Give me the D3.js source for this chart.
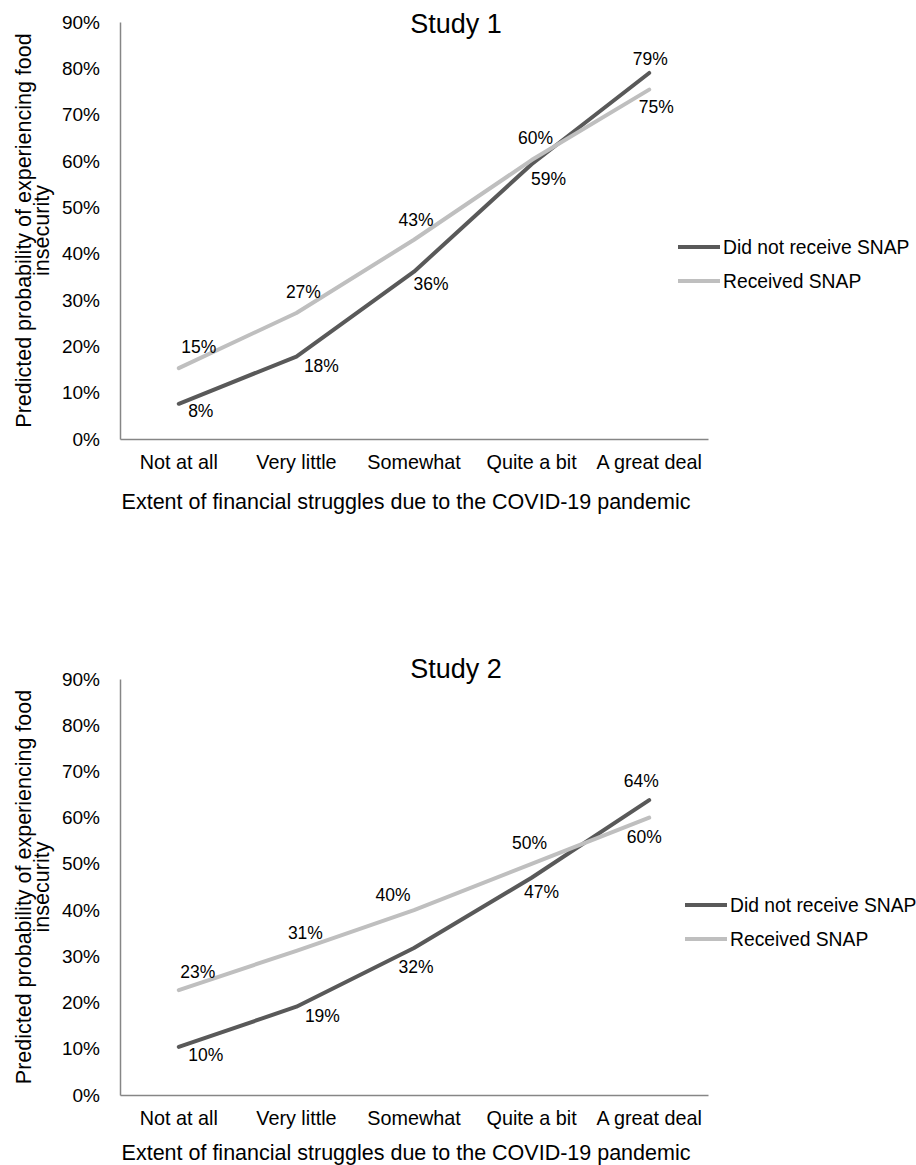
<!DOCTYPE html>
<html>
<head>
<meta charset="utf-8">
<script src="https://cdn.jsdelivr.net/npm/d3@7"></script>
<style>
  body { margin: 0; background: #fff; }
  svg { display: block; font-family: "Liberation Sans", Arial, sans-serif; }
</style>
</head>
<body>
<svg></svg>
<script>
const width = 916;
const height = 1165;

// data (percent)
const categories = ["Not at all", "Very little", "Somewhat", "Quite a bit", "A great deal"];
const seriesNames = ["Did not receive SNAP", "Received SNAP"];
const yTicks = [0, 10, 20, 30, 40, 50, 60, 70, 80, 90];

const study1NoSnap = [7.6, 17.8, 36.1, 59.3, 79.0];
const study1Snap = [15.3, 27.2, 43.0, 60.2, 75.4];

const study2NoSnap = [10.4, 19.1, 31.8, 47.0, 63.8];
const study2Snap = [22.7, 31.2, 40.0, 50.0, 60.0];

const colors = ["#595959", "#bfbfbf"];

// label nudges (dx, dy from the point) to mimic the original placement
const study1Offsets = [
  [[22, 13], [25, 15], [17, 18], [17, 21], [1, -8]],
  [[20, -15], [7, -15], [2, -14], [4, -16], [7, 23]]
];
const study2Offsets = [
  [[27, 14], [26, 15], [2, 25], [10, 20], [-8, -13]],
  [[19, -12], [9, -12], [-21, -9], [-2, -15], [-5, 25]]
];

const svg = d3.select("svg")
  .attr("width", width)
  .attr("height", height);

function drawPanel(cfg) {
  const x = d3.scaleBand()
    .domain(categories)
    .range([120, 708]);

  const y = d3.scaleLinear()
    .domain([0, 90])
    .range([cfg.bottom, cfg.top]);

  const g = svg.append("g");

  // y axis
  const yAxis = g.append("g")
    .attr("transform", "translate(120,0)")
    .call(d3.axisLeft(y).tickValues(yTicks).tickSize(0).tickPadding(20).tickFormat(d => d + "%"));
  yAxis.select(".domain").attr("stroke", "#868686").attr("stroke-width", 1.5);
  yAxis.selectAll("text")
    .attr("font-size", 19)
    .attr("font-family", "Liberation Sans, Arial, sans-serif")
    .attr("fill", "#000");

  // x axis
  const xAxis = g.append("g")
    .attr("transform", `translate(0,${cfg.bottom})`)
    .call(d3.axisBottom(x).tickSize(0).tickPadding(16));
  xAxis.select(".domain").attr("stroke", "#868686").attr("stroke-width", 1.5);
  xAxis.selectAll("text")
    .attr("font-size", 19.8)
    .attr("font-family", "Liberation Sans, Arial, sans-serif")
    .attr("fill", "#000");

  // lines
  const line = d3.line()
    .x((d, i) => x(categories[i]) + x.bandwidth() / 2)
    .y(d => y(d));

  cfg.series.forEach(function(vals, s) {
    g.append("path")
      .datum(vals)
      .attr("d", line)
      .attr("fill", "none")
      .attr("stroke", colors[s])
      .attr("stroke-width", 4)
      .attr("stroke-linecap", "round")
      .attr("stroke-linejoin", "round");
  });

  // data labels
  cfg.series.forEach(function(vals, s) {
    g.selectAll(null)
      .data(vals)
      .join("text")
      .attr("x", (d, i) => x(categories[i]) + x.bandwidth() / 2 + cfg.offsets[s][i][0])
      .attr("y", (d, i) => y(d) + cfg.offsets[s][i][1])
      .attr("text-anchor", "middle")
      .attr("font-size", 17.5)
      .text(d => Math.round(d) + "%");
  });

  // title
  g.append("text")
    .attr("x", 456)
    .attr("y", cfg.titleY)
    .attr("text-anchor", "middle")
    .attr("font-size", 27)
    .text(cfg.title);

  // y axis title
  const yt = g.append("text")
    .attr("transform", `translate(31,${(cfg.top + cfg.bottom) / 2}) rotate(-90)`)
    .attr("text-anchor", "middle")
    .attr("font-size", 21.5);
  yt.append("tspan").attr("x", 0).attr("y", 0).text("Predicted probability of experiencing food");
  yt.append("tspan").attr("x", 0).attr("y", 18).text("insecurity");

  // x axis title
  g.append("text")
    .attr("x", 406)
    .attr("y", cfg.xTitleY)
    .attr("text-anchor", "middle")
    .attr("font-size", 21.5)
    .text("Extent of financial struggles due to the COVID-19 pandemic");

  // legend
  const legend = g.append("g")
    .attr("transform", `translate(${cfg.legendX},${cfg.legendY})`);

  seriesNames.forEach(function(name, s) {
    legend.append("line")
      .attr("x1", 0)
      .attr("x2", 42)
      .attr("y1", s * 34)
      .attr("y2", s * 34)
      .attr("stroke", colors[s])
      .attr("stroke-width", 4);
    legend.append("text")
      .attr("x", 45)
      .attr("y", s * 34)
      .attr("dy", "0.35em")
      .attr("font-size", 19.3)
      .text(name);
  });
}

drawPanel({
  title: "Study 1",
  titleY: 33,
  top: 22,
  bottom: 439,
  xTitleY: 509,
  series: [study1NoSnap, study1Snap],
  offsets: study1Offsets,
  legendX: 678,
  legendY: 247
});

drawPanel({
  title: "Study 2",
  titleY: 678,
  top: 679,
  bottom: 1095,
  xTitleY: 1160,
  series: [study2NoSnap, study2Snap],
  offsets: study2Offsets,
  legendX: 685,
  legendY: 905
});
</script>
</body>
</html>
